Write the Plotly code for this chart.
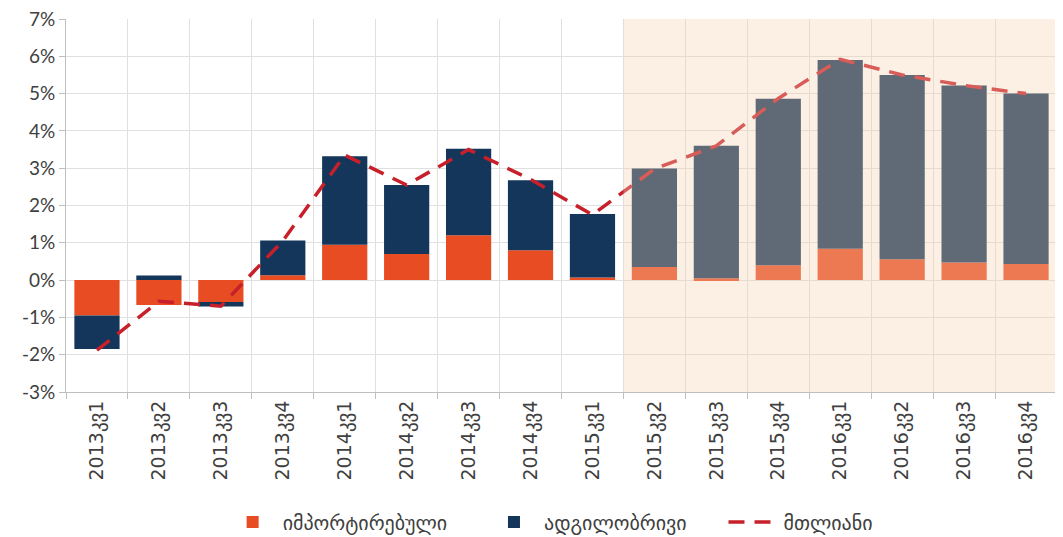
import plotly.graph_objects as go

categories = ["2013კვ1", "2013კვ2", "2013კვ3", "2013კვ4",
              "2014კვ1", "2014კვ2", "2014კვ3", "2014კვ4",
              "2015კვ1", "2015კვ2", "2015კვ3", "2015კვ4",
              "2016კვ1", "2016კვ2", "2016კვ3", "2016კვ4"]
imported = [-0.95, -0.67, -0.59, 0.13, 0.95, 0.70, 1.20, 0.80,
            0.07, 0.35, 0.05, 0.40, 0.84, 0.56, 0.47, 0.43]
local = [-0.90, 0.12, -0.12, 0.93, 2.37, 1.85, 2.32, 1.88,
         1.70, 2.64, 3.55, 4.46, 5.06, 4.94, 4.75, 4.57]
total = [-1.88, -0.57, -0.70, 1.05, 3.35, 2.55, 3.50, 2.70,
         1.75, 2.98, 3.60, 4.87, 5.92, 5.50, 5.22, 5.00]
y_ticks = [-3, -2, -1, 0, 1, 2, 3, 4, 5, 6, 7]
forecast_start = "2015კვ2"

FONT = "Lato, 'DejaVu Sans', sans-serif"
WIDE = "'DejaVu Sans', sans-serif"
PAD = "\u00a0" * 5

fig = go.Figure()
fig.add_trace(go.Bar(x=categories, y=imported, name="იმპორტირებული" + PAD,
                     marker=dict(color="#E84C22", line=dict(width=0)), width=0.73))
fig.add_trace(go.Bar(x=categories, y=local, name="ადგილობრივი" + PAD,
                     marker=dict(color="#13365A", line=dict(width=0)), width=0.73))
fig.add_trace(go.Scatter(x=categories, y=total, name="მთლიანი", mode="lines",
                         line=dict(color="#C8202A", width=3.5, dash="16px,10px")))

fs = categories.index(forecast_start)
fig.add_shape(type="rect", xref="x", yref="paper", x0=fs - 0.5, x1=len(categories) - 0.5,
              y0=0, y1=1, fillcolor="rgb(246,208,176)", opacity=0.34,
              line=dict(width=0), layer="above")

fig.update_layout(
    barmode="relative",
    width=1063, height=537,
    margin=dict(l=58, r=14, t=11, b=153, autoexpand=False),
    plot_bgcolor="white", paper_bgcolor="white",
    font=dict(family=FONT, color="#404040", size=17),
    bargap=0.27,
    legend=dict(orientation="h", x=0.51, xanchor="center", xref="container",
                y=0.043, yanchor="middle", yref="container",
                font=dict(size=20, family=WIDE), traceorder="normal",
                itemwidth=50),
    showlegend=True,
)
fig.update_xaxes(type="category", tickangle=-90, tickson="boundaries",
                 showgrid=True, gridcolor="#E0E0E0", gridwidth=1,
                 showline=True, linecolor="#BFBFBF", linewidth=1,
                 ticks="outside", ticklen=6, tickcolor="#BFBFBF",
                 tickfont=dict(size=19, family=WIDE), range=[-0.5, len(categories) - 0.5])
fig.update_yaxes(range=[-3, 7], tickvals=y_ticks,
                 ticktext=[f"{v}%" for v in y_ticks],
                 showgrid=True, gridcolor="#E0E0E0", gridwidth=1,
                 zeroline=False, ticklabeloverflow="allow",
                 showline=True, linecolor="#BFBFBF", linewidth=1,
                 ticks="outside", ticklen=6, tickcolor="#BFBFBF",
                 tickfont=dict(size=19))

fig.write_html("out.html")
